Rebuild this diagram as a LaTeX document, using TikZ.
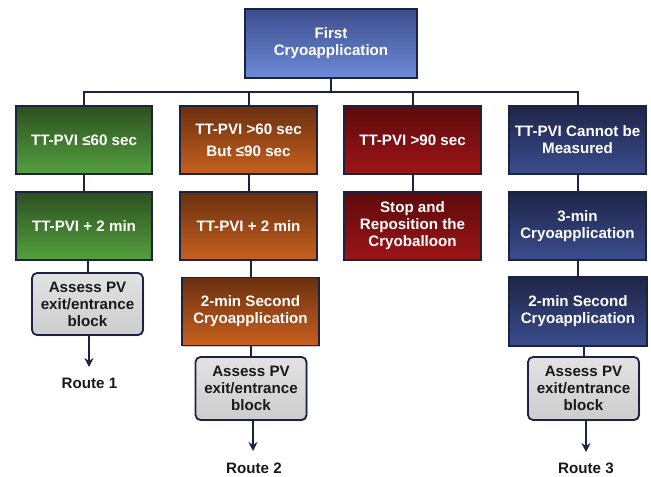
\documentclass[tikz,border=0pt]{standalone}
\usepackage{fontspec}
\setmainfont{Liberation Sans}
\usetikzlibrary{shadows,arrows.meta}
\definecolor{edge}{HTML}{1C2340}
\definecolor{topA}{HTML}{3D4D8C}\definecolor{topB}{HTML}{6C8BD8}
\definecolor{grnA}{HTML}{2C5020}\definecolor{grnB}{HTML}{54A03E}
\definecolor{orgA}{HTML}{6A300F}\definecolor{orgB}{HTML}{C8601F}
\definecolor{redA}{HTML}{5C0A0C}\definecolor{redB}{HTML}{9E1517}
\definecolor{navA}{HTML}{1E2548}\definecolor{navB}{HTML}{3B4D8E}
\definecolor{assA}{HTML}{E2E2E2}\definecolor{assB}{HTML}{CDCDCD}
\begin{document}
\begin{tikzpicture}[x=1bp,y=-1bp,
  basebox/.style={draw=edge,line width=1.8bp,rectangle,align=center,
    inner sep=2bp,text=white,font=\bfseries\fontsize{15.2}{17}\selectfont,
    drop shadow={shadow xshift=1bp,shadow yshift=-1bp,opacity=0.3,fill=black!70}},
  topbox/.style={basebox,top color=topA,bottom color=topB,minimum width=172bp,minimum height=69bp},
  grnbox/.style={basebox,top color=grnA,bottom color=grnB,minimum width=136bp,minimum height=68bp},
  orgbox/.style={basebox,top color=orgA,bottom color=orgB,minimum width=137bp,minimum height=68bp},
  redbox/.style={basebox,top color=redA,bottom color=redB,minimum width=137bp,minimum height=68bp},
  navbox/.style={basebox,top color=navA,bottom color=navB,minimum width=137bp,minimum height=68bp},
  assbox/.style={basebox,rounded corners=5bp,top color=assA,bottom color=assB,text=black!90,
    minimum width=111bp,minimum height=62bp},
  routelbl/.style={font=\bfseries\fontsize{15.2}{17}\selectfont,text=black!90,inner sep=1bp},
  conn/.style={draw=edge,line width=2bp},
  arr/.style={conn,-{Stealth[length=9bp,width=9bp,inset=3bp]}}
]
\useasboundingbox (0,0) rectangle (651,477);

\node[topbox] (top) at (331,43.5) {First\\Cryoapplication};

\node[grnbox] (g1) at (84,140) {TT-PVI ≤60 sec};
\node[grnbox] (g2) at (84,226) {TT-PVI + 2 min};
\node[assbox] (a1) at (87.5,304) {Assess PV\\exit/entrance\\block};
\coordinate (e1) at (89,367);
\node[routelbl] (r1) at (89.5,383) {Route 1};

\node[orgbox] (o1) at (248.5,140) {TT-PVI >60 sec\\[5bp]But ≤90 sec};
\node[orgbox] (o2) at (248.5,226) {TT-PVI + 2 min};
\node[orgbox] (o3) at (250.5,311.5) {2-min Second\\Cryoapplication};
\node[assbox,minimum height=63bp] (a2) at (251,388.5) {Assess PV\\exit/entrance\\block};
\coordinate (e2) at (253,451);
\node[routelbl] (r2) at (254,468) {Route 2};

\node[redbox] (d1) at (412.5,140) {TT-PVI >90 sec};
\node[redbox] (d2) at (412.5,226) {Stop and\\Reposition the\\Cryoballoon};

\node[navbox] (n1) at (577.5,140) {TT-PVI Cannot be\\Measured};
\node[navbox] (n2) at (577.5,226) {3-min\\Cryoapplication};
\node[navbox,minimum width=138bp,minimum height=69bp] (n3) at (578,311.5) {2-min Second\\Cryoapplication};
\node[assbox,minimum height=63bp] (a3) at (583.5,388.5) {Assess PV\\exit/entrance\\block};
\coordinate (e3) at (586,452);
\node[routelbl] (r3) at (586,468) {Route 3};

% bus
\coordinate (bus) at (331,92);
\draw[conn] (top.south) -- (bus);
\draw[conn] (g1.north) -- (g1.north |- bus) -- (n1.north |- bus) -- (n1.north);
\draw[conn] (o1.north) -- (o1.north |- bus);
\draw[conn] (d1.north) -- (d1.north |- bus);

% vertical links
\draw[conn] (g1.south) -- (g2.north);
\draw[conn] (a1.north) -- (a1.north |- g2.south);
\draw[arr] (e1 |- a1.south) -- (e1);

\draw[conn] (o1.south) -- (o2.north);
\draw[conn] (o3.north) -- (o3.north |- o2.south);
\draw[conn] (a2.north) -- (a2.north |- o3.south);
\draw[arr] (e2 |- a2.south) -- (e2);

\draw[conn] (d1.south) -- (d2.north);

\draw[conn] (n1.south) -- (n2.north);
\draw[conn] (n3.north) -- (n3.north |- n2.south);
\draw[conn] (a3.north) -- (a3.north |- n3.south);
\draw[arr] (e3 |- a3.south) -- (e3);
\end{tikzpicture}
\end{document}
